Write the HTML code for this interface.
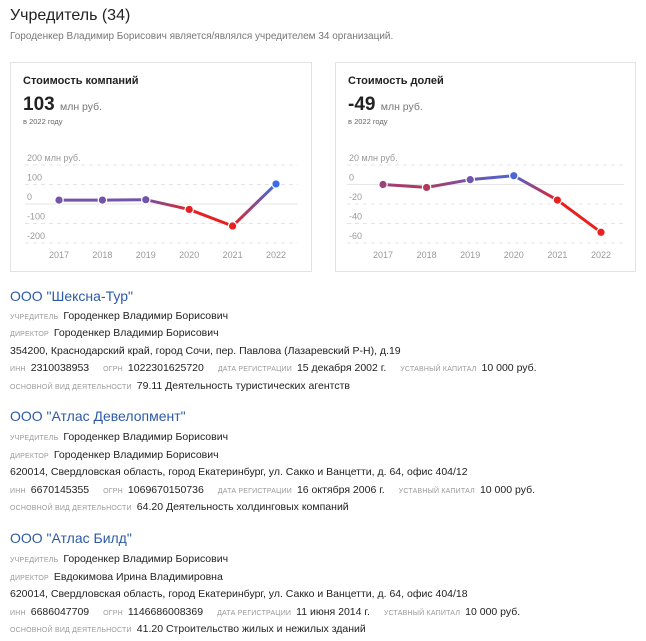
<!DOCTYPE html>
<html><head><meta charset="utf-8">
<style>
body{margin:0;width:646px;height:641px;background:#fff;font-family:"Liberation Sans","Noto Sans CJK SC",sans-serif;color:#222;position:relative;overflow:hidden}
.abs{position:absolute;white-space:nowrap}
h1{position:absolute;left:10px;top:7px;margin:0;font-size:16px;font-weight:normal;color:#222}
.sub{left:10px;top:31px;font-size:10px;color:#777}
.card{position:absolute;border:1px solid #e3e3e3;background:#fff}
.ct{position:absolute;left:12px;top:12px;font-size:11px;font-weight:bold;color:#222}
.cv{position:absolute;left:12px;top:31px;font-size:19px;font-weight:bold;color:#222}
.cv span{font-size:10.5px;font-weight:normal;color:#777}
.cy{position:absolute;left:12px;top:54px;font-size:7.5px;color:#666}
.co{left:10px;font-size:14px;color:#2d5aa8}
.row{left:10px;font-size:10.5px;color:#222}
.lb{font-size:7px;color:#999;text-transform:uppercase;margin-right:5px;letter-spacing:.2px}
.gap{display:inline-block;width:14px}
</style></head><body>
<h1>Учредитель (34)</h1>
<div class="abs sub">Городенкер Владимир Борисович является/являлся учредителем 34 организаций.</div>

<div class="card" style="left:10px;top:62px;width:300px;height:208px">
<div class="ct">Стоимость компаний</div>
<div class="cv">103 <span>млн руб.</span></div>
<div class="cy">в 2022 году</div>
</div>
<div class="card" style="left:335px;top:62px;width:299px;height:208px">
<div class="ct">Стоимость долей</div>
<div class="cv">-49 <span>млн руб.</span></div>
<div class="cy">в 2022 году</div>
</div>
<svg id="charts" width="646" height="641" style="position:absolute;left:0;top:0"></svg>

<div class="abs co" style="top:288px">ООО "Шексна-Тур"</div>
<div class="abs row" style="top:310px"><span class="lb">учредитель</span>Городенкер Владимир Борисович</div>
<div class="abs row" style="top:327px"><span class="lb">директор</span>Городенкер Владимир Борисович</div>
<div class="abs row" style="top:345px">354200, Краснодарский край, город Сочи, пер. Павлова (Лазаревский Р-Н), д.19</div>
<div class="abs row" style="top:362px"><span class="lb">инн</span>2310038953<span class="gap"></span><span class="lb">огрн</span>1022301625720<span class="gap"></span><span class="lb">дата регистрации</span>15 декабря 2002 г.<span class="gap"></span><span class="lb">уставный капитал</span>10 000 руб.</div>
<div class="abs row" style="top:380px"><span class="lb">основной вид деятельности</span>79.11 Деятельность туристических агентств</div>

<div class="abs co" style="top:408px">ООО "Атлас Девелопмент"</div>
<div class="abs row" style="top:431px"><span class="lb">учредитель</span>Городенкер Владимир Борисович</div>
<div class="abs row" style="top:449px"><span class="lb">директор</span>Городенкер Владимир Борисович</div>
<div class="abs row" style="top:466px">620014, Свердловская область, город Екатеринбург, ул. Сакко и Ванцетти, д. 64, офис 404/12</div>
<div class="abs row" style="top:484px"><span class="lb">инн</span>6670145355<span class="gap"></span><span class="lb">огрн</span>1069670150736<span class="gap"></span><span class="lb">дата регистрации</span>16 октября 2006 г.<span class="gap"></span><span class="lb">уставный капитал</span>10 000 руб.</div>
<div class="abs row" style="top:501px"><span class="lb">основной вид деятельности</span>64.20 Деятельность холдинговых компаний</div>

<div class="abs co" style="top:530px">ООО "Атлас Билд"</div>
<div class="abs row" style="top:553px"><span class="lb">учредитель</span>Городенкер Владимир Борисович</div>
<div class="abs row" style="top:571px"><span class="lb">директор</span>Евдокимова Ирина Владимировна</div>
<div class="abs row" style="top:588px">620014, Свердловская область, город Екатеринбург, ул. Сакко и Ванцетти, д. 64, офис 404/18</div>
<div class="abs row" style="top:606px"><span class="lb">инн</span>6686047709<span class="gap"></span><span class="lb">огрн</span>1146686008369<span class="gap"></span><span class="lb">дата регистрации</span>11 июня 2014 г.<span class="gap"></span><span class="lb">уставный капитал</span>10 000 руб.</div>
<div class="abs row" style="top:623px"><span class="lb">основной вид деятельности</span>41.20 Строительство жилых и нежилых зданий</div>

<script>
const years = ["2017","2018","2019","2020","2021","2022"];
const companyValues = [20, 20, 22, -28, -113, 103];
const companyTicks = [200, 100, 0, -100, -200];
const companyTickLabels = ["200 млн руб.", "100", "0", "-100", "-200"];
const shareValues = [0, -3, 5, 9, -16, -49];
const shareTicks = [20, 0, -20, -40, -60];
const shareTickLabels = ["20 млн руб.", "0", "-20", "-40", "-60"];

const NS = "http://www.w3.org/2000/svg";
const svg = document.getElementById("charts");
function mk(tag, attrs, parent){const e=document.createElementNS(NS,tag);for(const k in attrs)e.setAttribute(k,attrs[k]);(parent||svg).appendChild(e);return e;}
function mix(t){const r=Math.round(232+(59-232)*t),g=Math.round(32+(108-32)*t),b=Math.round(32+(232-32)*t);return `rgb(${r},${g},${b})`;}
let gid=0;
function drawChart(name, vals, ticks, labels, x0, x1, xFirst, xStep, lo, hi){
  const top=165, bottom=243;
  const tmax=ticks[0], tmin=ticks[ticks.length-1];
  const y=v=>top+(tmax-v)/(tmax-tmin)*(bottom-top);
  const x=i=>xFirst+i*xStep;
  const col=v=>mix(Math.max(0,Math.min(1,(v-lo)/(hi-lo))));
  const g=mk("g",{});
  
  
  ticks.forEach((t,i)=>{
    const ln=mk("line",{x1:x0,x2:x1,y1:y(t),y2:y(t),stroke:t===0?"#e6e6e6":"#e4e4e4","stroke-width":1,"stroke-dasharray":t===0?"":"4,4"},g);
    
    
    const tx=mk("text",{x:x0+2,y:y(t)-4,"font-size":9,fill:"#999","font-family":"Liberation Sans, sans-serif"},g);
    tx.textContent=labels[i];
    
    
  });
  years.forEach((yr,i)=>{
    const tx=mk("text",{x:x(i),y:258,"font-size":9,fill:"#999","text-anchor":"middle","font-family":"Liberation Sans, sans-serif"},g);
    tx.textContent=yr;
    
    
  });
  const defs=mk("defs",{},g);
  for(let i=0;i<vals.length-1;i++){
    const id="gr"+(gid++);
    const lg=mk("linearGradient",{id:id,gradientUnits:"userSpaceOnUse",x1:x(i),y1:y(vals[i]),x2:x(i+1),y2:y(vals[i+1])},defs);
    mk("stop",{offset:"0","stop-color":col(vals[i])},lg);
    mk("stop",{offset:"1","stop-color":col(vals[i+1])},lg);
    const seg=mk("line",{x1:x(i),y1:y(vals[i]),x2:x(i+1),y2:y(vals[i+1]),stroke:`url(#${id})`,"stroke-width":3,"stroke-linecap":"round"},g);
    
    
  }
  vals.forEach((v,i)=>{
    const c=mk("circle",{cx:x(i),cy:y(v),r:4.2,fill:col(v),stroke:"#fff","stroke-width":1.2},g);
    
    
  });
}
drawChart("company-value-chart", companyValues, companyTicks, companyTickLabels, 25, 298, 59, 43.4, -30, 45);
drawChart("share-value-chart", shareValues, shareTicks, shareTickLabels, 347, 624, 383, 43.6, -9, 11);
</script>
</body></html>
